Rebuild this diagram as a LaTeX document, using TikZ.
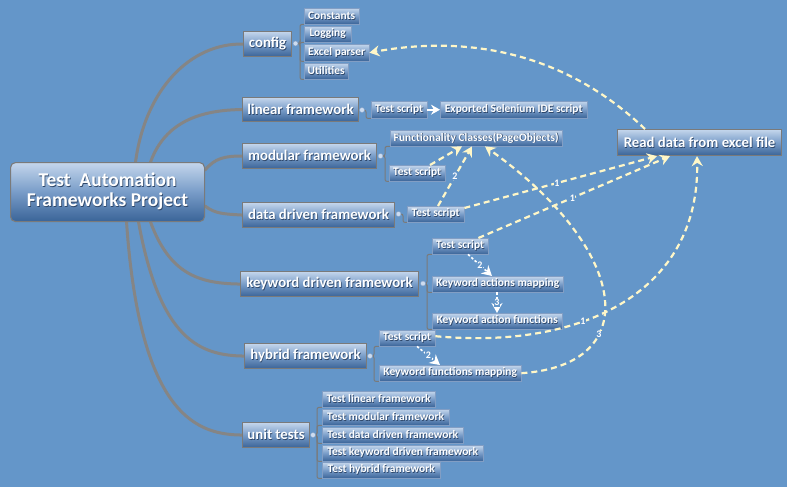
\documentclass[tikz,border=0pt]{standalone}
\usepackage{fontspec}
\setmainfont{Carlito}
\usetikzlibrary{arrows.meta,calc,backgrounds}
\definecolor{bg}{RGB}{100,150,201}
\definecolor{boxtop}{RGB}{196,214,236}
\definecolor{boxmid}{RGB}{120,156,200}
\definecolor{boxbot}{RGB}{58,100,152}
\definecolor{topicborder}{RGB}{122,122,122}
\definecolor{subborder}{RGB}{130,158,196}
\definecolor{rootgrey}{RGB}{133,133,133}
\definecolor{cream}{RGB}{255,247,200}
\definecolor{dotfill}{RGB}{205,220,240}
\definecolor{txtshadow}{RGB}{45,70,105}
\newcommand\sht[1]{\rlap{\kern0.7pt\raisebox{-0.7pt}{\textcolor{txtshadow}{#1}}}#1}
\pgfdeclarelayer{bgzero}
\pgfsetlayers{bgzero,background,main}
\tikzset{
  boxshade/.style={top color=boxtop, bottom color=boxbot, middle color=boxmid},
  roottopic/.style={boxshade, draw=topicborder, line width=1.1pt, rounded corners=5pt,
    text=white, font=\bfseries\fontsize{19.5}{20}\selectfont, align=center,
    anchor=north west, inner sep=0pt},
  topic/.style={boxshade, draw=topicborder, line width=1.1pt, text=white,
    font=\bfseries\fontsize{14.8}{16}\selectfont, anchor=north west, inner sep=0pt},
  sub/.style={boxshade, draw=subborder, line width=0.4pt, text=white,
    font=\bfseries\fontsize{11.5}{13}\selectfont, anchor=north west, inner sep=0pt},
  dotnode/.style={circle, minimum size=5pt, inner sep=0pt, fill=dotfill, draw=subborder, line width=0.4pt},
  bracket/.style={draw=topicborder, line width=1pt, rounded corners=2pt},
  rootline/.style={draw=rootgrey, line width=3pt, line cap=round},
  dref/.style={draw=cream, line width=2.2pt, dash pattern=on 6pt off 4pt, -{Stealth[length=10pt,width=11pt,fill=cream]}},
  warrow/.style={draw=white, line width=1.6pt, dash pattern=on 2.5pt off 2pt, -{Stealth[length=10pt,width=11pt,fill=white]}},
  lbl/.style={font=\bfseries\fontsize{10}{10}\selectfont, text=white, fill=bg, inner sep=0.5pt},
}
\begin{document}
\begin{tikzpicture}[x=1pt,y=-1pt]
\useasboundingbox (0,0) rectangle (787,487);
\begin{pgfonlayer}{bgzero}
\fill[bg] (0,0) rectangle (787,487);
\end{pgfonlayer}

% root
\node[roottopic, minimum width=194pt, minimum height=59pt] (root) at (10,162) {\sht{Test\ \ Automation}\\\sht{Frameworks Project}};

% main topics
\node[topic, minimum width=48pt, minimum height=25pt] (config) at (243,31) {\sht{config}};
\node[topic, minimum width=116pt, minimum height=24pt] (linear) at (242,97) {\sht{linear framework}};
\node[topic, minimum width=134pt, minimum height=25pt] (modular) at (242,143) {\sht{modular framework}};
\node[topic, minimum width=152pt, minimum height=25pt] (data) at (242,202) {\sht{data driven framework}};
\node[topic, minimum width=178pt, minimum height=25pt] (keyword) at (240,271) {\sht{keyword driven framework}};
\node[topic, minimum width=122pt, minimum height=25pt] (hybrid) at (244,343) {\sht{hybrid framework}};
\node[topic, minimum width=67pt, minimum height=25pt] (unit) at (242,422) {\sht{unit tests}};
\node[topic, minimum width=164pt, minimum height=26pt] (readdata) at (617,129) {\sht{Read data from excel file}};

% dots
\node[dotnode] (cfgdot) at (295.5,43.5) {};
\node[dotnode] (lindot) at (362,110) {};
\node[dotnode] (moddot) at (380.5,156) {};
\node[dotnode] (datdot) at (398.5,214) {};
\node[dotnode] (kwdot) at (423,283.5) {};
\node[dotnode] (hybdot) at (370,356) {};
\node[dotnode] (unitdot) at (313,435) {};

% config children
\node[sub, minimum width=55pt, minimum height=16pt] (const) at (304,8) {\sht{Constants}};
\node[sub, minimum width=47pt, minimum height=16pt] (logging) at (304,26) {\sht{Logging}};
\node[sub, minimum width=65pt, minimum height=17pt] (excel) at (304,44) {\sht{Excel parser}};
\node[sub, minimum width=44pt, minimum height=16pt] (util) at (304,63) {\sht{Utilities}};

% linear children
\node[sub, minimum width=56pt, minimum height=17pt] (lints) at (371,101) {\sht{Test script}};
\node[sub, minimum width=147pt, minimum height=17pt] (exported) at (440,101) {\sht{Exported Selenium IDE script}};

% modular children
\node[sub, minimum width=172pt, minimum height=16pt] (fc) at (390,130) {\sht{Functionality Classes(PageObjects)}};
\node[sub, minimum width=56pt, minimum height=16pt] (modts) at (389,165) {\sht{Test script}};

% data children
\node[sub, minimum width=57pt, minimum height=16pt] (dts) at (407,206) {\sht{Test script}};

% keyword children
\node[sub, minimum width=56pt, minimum height=16pt] (kts) at (432,238) {\sht{Test script}};
\node[sub, minimum width=131pt, minimum height=16pt] (kam) at (432,276) {\sht{Keyword actions mapping}};
\node[sub, minimum width=130pt, minimum height=16pt] (kaf) at (432,313) {\sht{Keyword action functions}};

% hybrid children
\node[sub, minimum width=56pt, minimum height=16pt] (hts) at (379,330) {\sht{Test script}};
\node[sub, minimum width=142pt, minimum height=16pt] (kfm) at (379,365) {\sht{Keyword functions mapping}};

% unit tests children
\node[sub, minimum width=113pt, minimum height=16pt] (ut1) at (322,391) {\sht{Test linear framework}};
\node[sub, minimum width=127pt, minimum height=16pt] (ut2) at (322,409) {\sht{Test modular framework}};
\node[sub, minimum width=141pt, minimum height=16pt] (ut3) at (322,427) {\sht{Test data driven framework}};
\node[sub, minimum width=161pt, minimum height=16pt] (ut4) at (322,445) {\sht{Test keyword driven framework}};
\node[sub, minimum width=118pt, minimum height=16pt] (ut5) at (322,462) {\sht{Test hybrid framework}};

% bracket junctions
\coordinate (cfgbr) at (300,43.5);
\coordinate (linbr) at (366,110);
\coordinate (modbr) at (385,156);
\coordinate (datbr) at (403,214);
\coordinate (kwbr) at (427,283.5);
\coordinate (hybbr) at (374,356);
\coordinate (unitbr) at (317,435);

\begin{pgfonlayer}{background}
% root connectors
\draw[rootline] ([xshift=28]root.north) .. controls (145,90) and (190,43) .. (config.west);
\draw[rootline] ([xshift=43]root.north) .. controls (165,122) and (200,110) .. (linear.west);
\draw[rootline] ([yshift=-8]root.north east) .. controls (215,158) and (225,156) .. (modular.west);
\draw[rootline] ([yshift=-44]root.north east) .. controls (215,214) and (225,214) .. (data.west);
\draw[rootline] ([xshift=43]root.south) .. controls (170,275) and (200,283.5) .. (keyword.west);
\draw[rootline] ([xshift=31]root.south) .. controls (160,340) and (200,355.5) .. (hybrid.west);
\draw[rootline] ([xshift=19]root.south) .. controls (140,420) and (200,434.5) .. (unit.west);

% brackets
\foreach \c in {const,logging,excel,util} {\draw[bracket] (cfgdot.east) -- (cfgbr) |- (\c.south west);}
\draw[bracket] (lindot.east) -- (linbr) |- (lints.south west);
\foreach \c in {fc,modts} {\draw[bracket] (moddot.east) -- (modbr) |- (\c.south west);}
\draw[bracket] (datdot.east) -- (datbr) |- (dts.south west);
\foreach \c in {kts,kam,kaf} {\draw[bracket] (kwdot.east) -- (kwbr) |- (\c.south west);}
\foreach \c in {hts,kfm} {\draw[bracket] (hybdot.east) -- (hybbr) |- (\c.south west);}
\foreach \c in {ut1,ut2,ut3,ut4,ut5} {\draw[bracket] (unitdot.east) -- (unitbr) |- (\c.south west);}
\end{pgfonlayer}

% linear arrow
\draw[draw=white, line width=1.8pt, -{Stealth[length=9pt,width=10pt,fill=white]}] (lints.east) -- (exported.west);

% internal white arrows
\draw[warrow] ([xshift=36]kts.south west) -- ([xshift=60]kam.north west) node[lbl, midway] {2};
\draw[warrow] ([xshift=65]kam.south west) -- ([xshift=65]kaf.north west) node[lbl, midway] {3};
\draw[warrow] ([xshift=38]hts.south west) -- ([xshift=61]kfm.north west) node[lbl, midway] {2};

% cream dashed relations
\draw[dref] ([xshift=28]readdata.north west) .. controls (560,48) and (460,36) .. (excel.east);
\draw[dref] ([xshift=41]modts.north west) -- ([xshift=72]fc.south west);
\draw[dref] ([xshift=31]dts.north west) -- ([xshift=82]fc.south west) node[lbl, pos=0.5] {2};
\draw[dref] ([yshift=-2]dts.north east) -- ([xshift=40]readdata.south west) node[lbl, pos=0.48] {1};
\draw[dref] ([xshift=-10]kts.north east) -- ([xshift=53]readdata.south west) node[lbl, pos=0.49] {1};
\draw[dref] ([yshift=2]hts.east) .. controls (585,350) and (700,290) .. ([xshift=80]readdata.south west) node[lbl, pos=0.37] {1};
\draw[dref] (kfm.east) .. controls (645,365) and (630,250) .. ([xshift=95]fc.south west) node[lbl, pos=0.33] {3};
\end{tikzpicture}
\end{document}
